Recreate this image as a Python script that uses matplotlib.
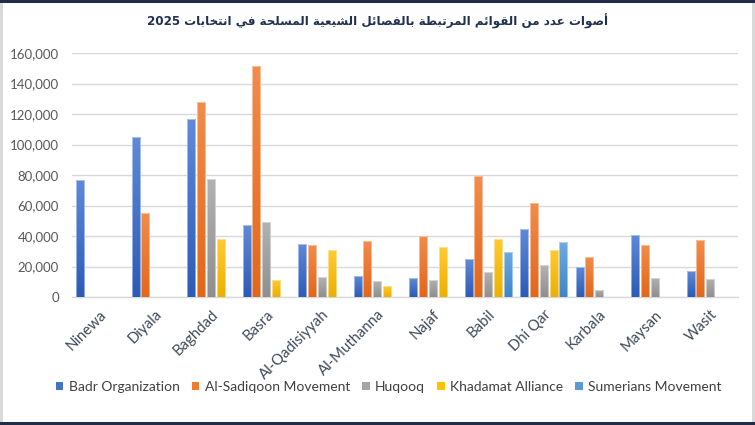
import re
import numpy as np
import matplotlib
matplotlib.use("Agg")
import matplotlib.pyplot as plt
from matplotlib.colors import LinearSegmentedColormap
from matplotlib.patches import Rectangle, Patch

# ---------------- data ----------------
provinces = ['Ninewa', 'Diyala', 'Baghdad', 'Basra', 'Al-Qadisiyyah', 'Al-Muthanna',
             'Najaf', 'Babil', 'Dhi Qar', 'Karbala', 'Maysan', 'Wasit']
series_names = ['Badr Organization', 'Al-Sadiqoon Movement', 'Huqooq',
                'Khadamat Alliance', 'Sumerians Movement']
nan = np.nan
badr      = [77000, 105000, 116500, 47200, 35000, 13800, 12700, 25000, 44300, 20000, 40800, 16900]
sadiqoon  = [nan, 55200, 128000, 151200, 34300, 37000, 40100, 79200, 61400, 26500, 34400, 37100]
huqooq    = [nan, nan, 77500, 49500, 13100, 10300, 11400, 16200, 20800, 4600, 12700, 12100]
khadamat  = [nan, nan, 37900, 11200, 30700, 7500, 32600, 38300, 30900, nan, nan, nan]
sumerians = [nan, nan, nan, nan, nan, nan, nan, 29800, 36200, nan, nan, nan]
yticks = [0, 20000, 40000, 60000, 80000, 100000, 120000, 140000, 160000]
title_text = 'أصوات عدد من القوائم المرتبطة بالفصائل الشيعية المسلحة في انتخابات 2025'

series_values = [badr, sadiqoon, huqooq, khadamat, sumerians]
base_colors = ['#4472C4', '#ED7D31', '#A5A5A5', '#FFC000', '#5B9BD5']
top_colors = ['#5F8AD8', '#F28C4C', '#B2B2B2', '#FFCA33', '#6FAAE0']
bot_colors = ['#2C5BB8', '#E2671B', '#8F8F8F', '#EDB000', '#3F86CA']

# ------------- simple Arabic shaping (presentation forms) -------------
_DUAL = {0x0626: 0xFE89, 0x0628: 0xFE8F, 0x062A: 0xFE95, 0x062B: 0xFE99, 0x062C: 0xFE9D,
         0x062D: 0xFEA1, 0x062E: 0xFEA5, 0x0633: 0xFEB1, 0x0634: 0xFEB5, 0x0635: 0xFEB9,
         0x0636: 0xFEBD, 0x0637: 0xFEC1, 0x0638: 0xFEC5, 0x0639: 0xFEC9, 0x063A: 0xFECD,
         0x0641: 0xFED1, 0x0642: 0xFED5, 0x0643: 0xFED9, 0x0644: 0xFEDD, 0x0645: 0xFEE1,
         0x0646: 0xFEE5, 0x0647: 0xFEE9, 0x064A: 0xFEF1}
_RIGHT = {0x0622: 0xFE81, 0x0623: 0xFE83, 0x0624: 0xFE85, 0x0625: 0xFE87, 0x0627: 0xFE8D,
          0x0629: 0xFE93, 0x062F: 0xFEA9, 0x0630: 0xFEAB, 0x0631: 0xFEAD, 0x0632: 0xFEAF,
          0x0648: 0xFEED, 0x0649: 0xFEEF}


def shape_arabic(s):
    cps = [ord(c) for c in s]
    out = []
    n = len(cps)
    for i, c in enumerate(cps):
        prev = cps[i - 1] if i > 0 else None
        nxt = cps[i + 1] if i < n - 1 else None
        cp = prev in _DUAL
        if c in _DUAL:
            cn = (nxt in _DUAL) or (nxt in _RIGHT)
            b = _DUAL[c]
            if cp and cn:
                out.append(chr(b + 3))
            elif cp:
                out.append(chr(b + 1))
            elif cn:
                out.append(chr(b + 2))
            else:
                out.append(chr(b))
        elif c in _RIGHT:
            b = _RIGHT[c]
            out.append(chr(b + 1) if cp else chr(b))
        else:
            out.append(chr(c))
    vis = ''.join(out)[::-1]
    vis = re.sub(r'[0-9]+', lambda m: m.group(0)[::-1], vis)
    return vis


# ---------------- figure ----------------
fig = plt.figure(figsize=(7.55, 4.25), dpi=100)
fig.patch.set_facecolor('white')
ax = fig.add_axes([72 / 755, 1 - 297 / 425, (738 - 72) / 755, (297 - 53) / 425])

x = np.arange(len(provinces))
pitch = 0.177
width = 0.145
ax.set_xlim(-0.5, len(provinces) - 0.5)
ax.set_ylim(0, 160000)

for si, vals in enumerate(series_values):
    cmap = LinearSegmentedColormap.from_list('g%d' % si, [bot_colors[si], top_colors[si]])
    grad = np.linspace(1, 0, 64).reshape(-1, 1)
    offs = (si - 2) * pitch
    v = np.array(vals, dtype=float)
    mask = ~np.isnan(v)
    bars = ax.bar(x[mask] + offs, v[mask], width=width, color=base_colors[si],
                  edgecolor='none', zorder=2)
    for b in bars:
        x0, y0 = b.get_x(), b.get_y()
        w, h = b.get_width(), b.get_height()
        im = ax.imshow(grad, extent=[x0, x0 + w, y0, y0 + h], cmap=cmap,
                       aspect='auto', origin='upper', zorder=3, interpolation='bilinear')
        im.set_clip_path(b)
        ax.add_patch(Rectangle((x0, y0), w, h, fill=False, edgecolor='white',
                               linewidth=0.6, alpha=0.55, zorder=4))

ax.set_xlim(-0.5, len(provinces) - 0.5)
ax.set_ylim(0, 160000)
ax.set_aspect('auto')

ax.set_yticks(yticks)
ax.set_yticklabels(['{:,}'.format(t) for t in yticks], fontsize=9.5,
                   color='#595959', family=['Lato', 'DejaVu Sans'])
ax.set_xticks(x)
ax.set_xticklabels(provinces, rotation=45, ha='right', va='top', rotation_mode='anchor',
                   fontsize=10.7, color='#3F4A5A', family=['Lato', 'DejaVu Sans'])
ax.tick_params(axis='both', length=0)
ax.tick_params(axis='y', pad=9.5)
ax.tick_params(axis='x', pad=7.5)
ax.grid(axis='y', color='#D9D9D9', linewidth=1.0, zorder=0)
ax.set_axisbelow(True)
for sp in ['top', 'right', 'left']:
    ax.spines[sp].set_visible(False)
ax.spines['bottom'].set_color('#D9D9D9')
ax.spines['bottom'].set_linewidth(1.0)

fig.text(0.50, 1 - 21 / 425, shape_arabic(title_text), ha='center', va='center',
         fontsize=8.6, fontweight='bold', color='#1F3050', family=['DejaVu Sans'])

handles = [Patch(facecolor=c, edgecolor='none') for c in base_colors]
leg = fig.legend(handles, series_names, loc='center', bbox_to_anchor=(0.515, 1 - 387 / 425),
                 ncol=5, frameon=False, handlelength=0.55, handleheight=0.55,
                 handletextpad=0.4, columnspacing=0.85,
                 prop={'family': ['Lato', 'DejaVu Sans'], 'size': 10})
for t in leg.get_texts():
    t.set_color('#404040')

# frame around the picture
fig.patches.append(Rectangle((0, 1 - 3 / 425), 1, 3 / 425, transform=fig.transFigure,
                             facecolor='#1F2D4A', edgecolor='none', zorder=10))
fig.patches.append(Rectangle((0, 0), 1, 3 / 425, transform=fig.transFigure,
                             facecolor='#1F2D4A', edgecolor='none', zorder=10))
fig.patches.append(Rectangle((0, 0), 3 / 755, 1, transform=fig.transFigure,
                             facecolor='#D9D9D9', edgecolor='none', zorder=9))
fig.patches.append(Rectangle((1 - 3 / 755, 0), 3 / 755, 1, transform=fig.transFigure,
                             facecolor='#D9D9D9', edgecolor='none', zorder=9))

fig.savefig('out.png', dpi=100)
